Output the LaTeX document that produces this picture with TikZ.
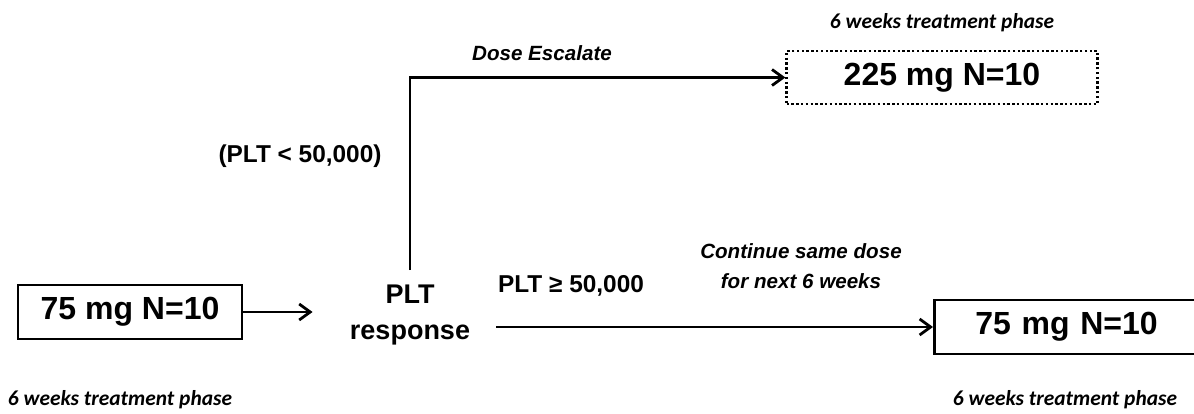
\documentclass[tikz,border=0pt]{standalone}
\usepackage{fontspec}
\setmainfont{Liberation Sans}
\newfontfamily\calfont{Carlito}
\usetikzlibrary{positioning, arrows.meta}

\begin{document}
\begin{tikzpicture}[x=0.5pt, y=-0.5pt, line width=1.4pt, >={Straight Barb[length=5.5pt, width=8pt]},
	box/.style = {draw, font=\fontsize{16}{19}\selectfont\bfseries, minimum height=27pt},
	dotbox/.style = {box, dash pattern=on 1.2pt off 1.2pt, line width=1.1pt},
	lab/.style = {font=\fontsize{12.2}{15}\selectfont\bfseries, inner sep=0pt},
	itlab/.style = {font=\fontsize{10.3}{15}\selectfont\bfseries\itshape, inner sep=0pt, align=center},
	phase/.style = {font=\calfont\fontsize{10.7}{13}\selectfont\bfseries\itshape, inner sep=0pt}]
	\useasboundingbox (0,0) rectangle (1194,413);
	\clip (0,0) rectangle (1194,413);
	% boxes and the response node
	\node[box, minimum width=112pt] (1) at (130,312) {75 mg N=10};
	\node[align=center, inner sep=7pt, anchor=north, font=\fontsize{13.5}{18}\selectfont\bfseries] (2) at (410,270) {PLT\\response};
	\node[box, anchor=west, align=left, text width=200pt, inner xsep=20.5pt] (3) at (933,327) {75 mg N=10};
	\node[dotbox, minimum width=155.5pt, minimum height=26.5pt] (4) at (942,77.5) {225 mg N=10};
	% labels
	\node[lab, anchor=base] (lo) at (300,162) {(PLT < 50,000)};
	\node[lab, anchor=base] (hi) at (571,292) {PLT ≥ 50,000};
	\node[itlab, anchor=base] (esc) at (542,60) {Dose Escalate};
	\node[itlab, anchor=north] (cont) at (801,242) {Continue same dose\\for next 6 weeks};
	\node[phase, anchor=base] (p1) at (120,405) {6 weeks treatment phase};
	\node[phase, anchor=base] (p3) at (1065,405) {6 weeks treatment phase};
	\node[phase, anchor=base] (p4) at (942,28) {6 weeks treatment phase};
	% connectors
	\draw[->, shorten >=11pt] (1.east) -- (2.west |- 1.east);
	\draw[->] (2.north) |- (4.west);
	\draw[->, shorten <=5.5pt] (2.east |- 3.west) -- (3.west);
\end{tikzpicture}
\end{document}
